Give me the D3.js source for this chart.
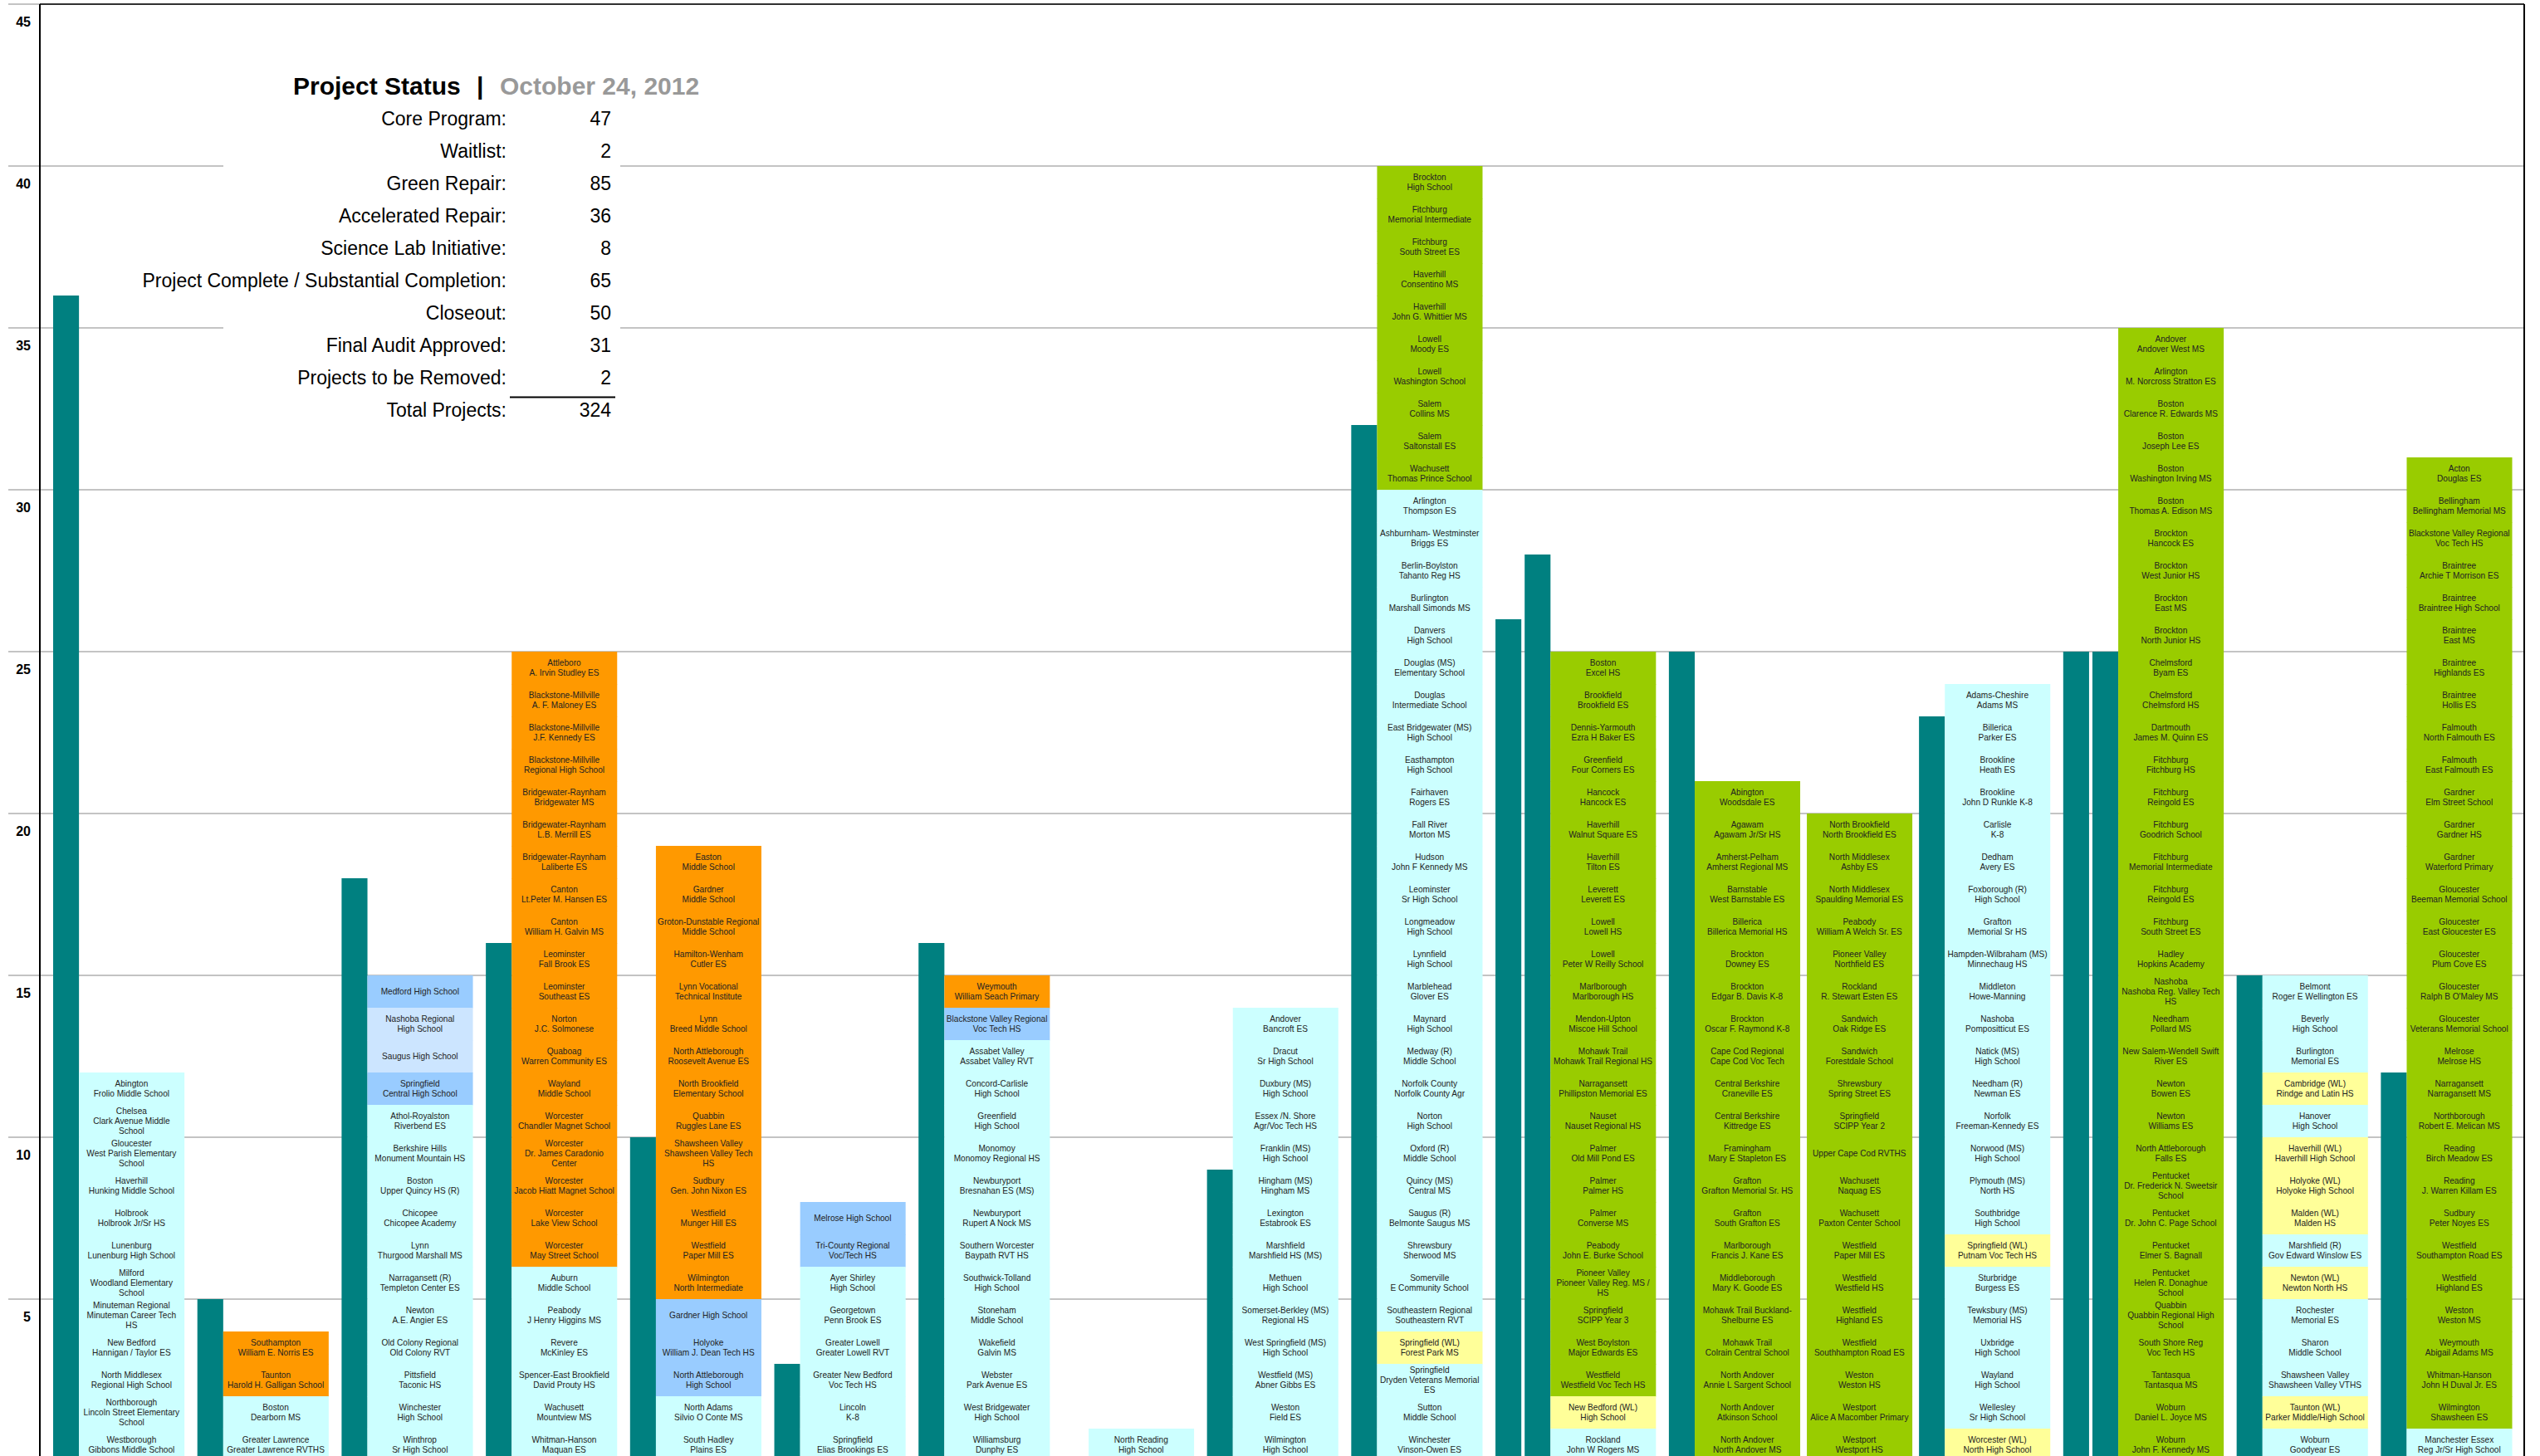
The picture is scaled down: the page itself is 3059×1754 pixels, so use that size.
<!DOCTYPE html>
<html>
<head>
<meta charset="utf-8">
<script src="https://cdn.jsdelivr.net/npm/d3@7"></script>
<style>
  body { margin: 0; background: #fff; }
  svg { display: block; font-family: "Liberation Sans", Arial, sans-serif; }
</style>
</head>
<body>
<svg id="chart"></svg>
<script>
// Project status board: teal bars = counts, coloured stacks = one cell per project

var statusLabels = ["Core Program:", "Waitlist:", "Green Repair:", "Accelerated Repair:",
  "Science Lab Initiative:", "Project Complete / Substantial Completion:", "Closeout:",
  "Final Audit Approved:", "Projects to be Removed:", "Total Projects:"];
var statusValues = [47, 2, 85, 36, 8, 65, 50, 31, 2, 324];

var yTicks = [5, 10, 15, 20, 25, 30, 35, 40, 45];

var groupIds = ["g01", "g02", "g03", "g04", "g05", "g06", "g07", "g08", "g09",
  "g10", "g11", "g12", "g13", "g14", "g15", "g16", "g17"];

// teal bar values per group (some groups have two bars, one has none)
var tealValues = [[36], [5], [18], [16], [10], [3], [16], [0], [9], [32], [26, 28],
  [25], [], [23], [25, 25], [15], [12]];

// stack cells, top to bottom; prefix = status colour code
var stackG01 = ["c|Abington\nFrolio Middle School", "c|Chelsea\nClark Avenue Middle\nSchool",
  "c|Gloucester\nWest Parish Elementary\nSchool", "c|Haverhill\nHunking Middle School",
  "c|Holbrook\nHolbrook Jr/Sr HS", "c|Lunenburg\nLunenburg High School",
  "c|Milford\nWoodland Elementary\nSchool", "c|Minuteman Regional\nMinuteman Career Tech\nHS",
  "c|New Bedford\nHannigan / Taylor ES", "c|North Middlesex\nRegional High School",
  "c|Northborough\nLincoln Street Elementary\nSchool", "c|Westborough\nGibbons Middle School"];
var stackG02 = ["o|Southampton\nWilliam E. Norris ES", "o|Taunton\nHarold H. Galligan School",
  "c|Boston\nDearborn MS", "c|Greater Lawrence\nGreater Lawrence RVTHS"];
var stackG03 = ["b|Medford High School", "l|Nashoba Regional\nHigh School", "l|Saugus High School",
  "b|Springfield\nCentral High School", "c|Athol-Royalston\nRiverbend ES",
  "c|Berkshire Hills\nMonument Mountain HS", "c|Boston\nUpper Quincy HS (R)",
  "c|Chicopee\nChicopee Academy", "c|Lynn\nThurgood Marshall MS",
  "c|Narragansett (R)\nTempleton Center ES", "c|Newton\nA.E. Angier ES",
  "c|Old Colony Regional\nOld Colony RVT", "c|Pittsfield\nTaconic HS",
  "c|Winchester\nHigh School", "c|Winthrop\nSr High School"];
var stackG04 = ["o|Attleboro\nA. Irvin Studley ES", "o|Blackstone-Millville\nA. F. Maloney  ES",
  "o|Blackstone-Millville\nJ.F. Kennedy ES", "o|Blackstone-Millville\nRegional High School",
  "o|Bridgewater-Raynham\nBridgewater MS", "o|Bridgewater-Raynham\nL.B. Merrill ES",
  "o|Bridgewater-Raynham\nLaliberte ES", "o|Canton\nLt.Peter M. Hansen ES",
  "o|Canton\nWilliam H. Galvin MS", "o|Leominster\nFall Brook ES", "o|Leominster\nSoutheast ES",
  "o|Norton\nJ.C. Solmonese", "o|Quaboag\nWarren Community ES", "o|Wayland\nMiddle School",
  "o|Worcester\nChandler Magnet School", "o|Worcester\nDr. James Caradonio\nCenter",
  "o|Worcester\nJacob Hiatt Magnet School", "o|Worcester\nLake View School",
  "o|Worcester\nMay Street School", "c|Auburn\nMiddle School", "c|Peabody\nJ Henry Higgins MS",
  "c|Revere\nMcKinley ES", "c|Spencer-East Brookfield\nDavid Prouty HS",
  "c|Wachusett\nMountview MS", "c|Whitman-Hanson\nMaquan ES"];
var stackG05 = ["o|Easton\nMiddle School", "o|Gardner\nMiddle School",
  "o|Groton-Dunstable Regional\nMiddle School", "o|Hamilton-Wenham\nCutler ES",
  "o|Lynn Vocational\nTechnical Institute", "o|Lynn\nBreed Middle School",
  "o|North Attleborough\nRoosevelt Avenue ES", "o|North Brookfield\nElementary School",
  "o|Quabbin\nRuggles Lane ES", "o|Shawsheen Valley\nShawsheen Valley Tech\nHS",
  "o|Sudbury\nGen. John Nixon ES", "o|Westfield\nMunger Hill ES", "o|Westfield\nPaper Mill ES",
  "o|Wilmington\nNorth Intermediate", "b|Gardner High School",
  "b|Holyoke\nWilliam J. Dean Tech HS", "b|North Attleborough\nHigh School",
  "c|North Adams\nSilvio O Conte MS", "c|South Hadley\nPlains ES"];
var stackG06 = ["b|Melrose High School", "b|Tri-County Regional\nVoc/Tech HS",
  "c|Ayer Shirley\nHigh School", "c|Georgetown\nPenn Brook ES",
  "c|Greater Lowell\nGreater Lowell RVT", "c|Greater New Bedford\nVoc Tech HS",
  "c|Lincoln\nK-8", "c|Springfield\nElias Brookings ES"];
var stackG07 = ["o|Weymouth\nWilliam Seach Primary", "b|Blackstone Valley Regional\nVoc Tech HS",
  "c|Assabet Valley\nAssabet Valley RVT", "c|Concord-Carlisle\nHigh School",
  "c|Greenfield\nHigh School", "c|Monomoy\nMonomoy Regional HS",
  "c|Newburyport\nBresnahan ES (MS)", "c|Newburyport\nRupert A Nock MS",
  "c|Southern Worcester\nBaypath RVT HS", "c|Southwick-Tolland\nHigh School",
  "c|Stoneham\nMiddle School", "c|Wakefield\nGalvin MS", "c|Webster\nPark Avenue ES",
  "c|West Bridgewater\nHigh School", "c|Williamsburg\nDunphy ES"];
var stackG08 = ["c|North Reading\nHigh School"];
var stackG09 = ["c|Andover\nBancroft ES", "c|Dracut\nSr High School", "c|Duxbury (MS)\nHigh School",
  "c|Essex /N. Shore\nAgr/Voc Tech HS", "c|Franklin (MS)\nHigh School",
  "c|Hingham (MS)\nHingham MS", "c|Lexington\nEstabrook ES", "c|Marshfield\nMarshfield HS (MS)",
  "c|Methuen\nHigh School", "c|Somerset-Berkley (MS)\nRegional HS",
  "c|West Springfield (MS)\nHigh School", "c|Westfield (MS)\nAbner Gibbs ES",
  "c|Weston\nField ES", "c|Wilmington\nHigh School"];
var stackG10 = ["g|Brockton\nHigh School", "g|Fitchburg\nMemorial Intermediate",
  "g|Fitchburg\nSouth Street ES", "g|Haverhill\nConsentino MS", "g|Haverhill\nJohn G. Whittier MS",
  "g|Lowell\nMoody ES", "g|Lowell\nWashington School", "g|Salem\nCollins MS",
  "g|Salem\nSaltonstall ES", "g|Wachusett\nThomas Prince School", "c|Arlington\nThompson ES",
  "c|Ashburnham- Westminster\nBriggs ES", "c|Berlin-Boylston\nTahanto Reg HS",
  "c|Burlington\nMarshall Simonds MS", "c|Danvers\nHigh School",
  "c|Douglas  (MS)\nElementary  School", "c|Douglas\nIntermediate School",
  "c|East Bridgewater (MS)\nHigh School", "c|Easthampton\nHigh School", "c|Fairhaven\nRogers ES",
  "c|Fall River\nMorton MS", "c|Hudson\nJohn F Kennedy MS", "c|Leominster\nSr High School",
  "c|Longmeadow\nHigh School", "c|Lynnfield\nHigh School", "c|Marblehead\nGlover ES",
  "c|Maynard\nHigh School", "c|Medway (R)\nMiddle School", "c|Norfolk County\nNorfolk County Agr",
  "c|Norton\nHigh School", "c|Oxford (R)\nMiddle School", "c|Quincy (MS)\nCentral MS",
  "c|Saugus (R)\nBelmonte Saugus MS", "c|Shrewsbury\nSherwood MS",
  "c|Somerville\nE Community School", "c|Southeastern Regional\nSoutheastern RVT",
  "y|Springfield (WL)\nForest Park MS", "c|Springfield\nDryden Veterans Memorial\nES",
  "c|Sutton\nMiddle School", "c|Winchester\nVinson-Owen ES"];
var stackG11 = ["g|Boston\nExcel HS", "g|Brookfield\nBrookfield ES", "g|Dennis-Yarmouth\nEzra H Baker ES",
  "g|Greenfield\nFour Corners ES", "g|Hancock\nHancock ES", "g|Haverhill\nWalnut Square ES",
  "g|Haverhill\nTilton ES", "g|Leverett\nLeverett ES", "g|Lowell\nLowell HS",
  "g|Lowell\nPeter W Reilly School", "g|Marlborough\nMarlborough HS",
  "g|Mendon-Upton\nMiscoe Hill School", "g|Mohawk Trail\nMohawk Trail Regional HS",
  "g|Narragansett\nPhillipston Memorial ES", "g|Nauset\nNauset Regional HS",
  "g|Palmer\nOld Mill Pond ES", "g|Palmer\nPalmer HS", "g|Palmer\nConverse MS",
  "g|Peabody\nJohn E. Burke School", "g|Pioneer Valley\nPioneer Valley Reg. MS /\nHS",
  "g|Springfield\nSCIPP Year 3", "g|West Boylston\nMajor Edwards ES",
  "g|Westfield\nWestfield Voc Tech HS", "y|New Bedford (WL)\nHigh School",
  "c|Rockland\nJohn W Rogers MS"];
var stackG12 = ["g|Abington\nWoodsdale ES", "g|Agawam\nAgawam Jr/Sr HS",
  "g|Amherst-Pelham\nAmherst Regional MS", "g|Barnstable\nWest Barnstable ES",
  "g|Billerica\nBillerica Memorial HS", "g|Brockton\nDowney ES", "g|Brockton\nEdgar B. Davis K-8",
  "g|Brockton\nOscar F. Raymond K-8", "g|Cape Cod Regional\nCape Cod Voc Tech",
  "g|Central Berkshire\nCraneville ES", "g|Central Berkshire\nKittredge ES",
  "g|Framingham\nMary E Stapleton ES", "g|Grafton\nGrafton Memorial Sr. HS",
  "g|Grafton\nSouth Grafton ES", "g|Marlborough\nFrancis J. Kane ES",
  "g|Middleborough\nMary K. Goode ES", "g|Mohawk Trail  Buckland-\nShelburne ES",
  "g|Mohawk Trail\nColrain Central School", "g|North Andover\nAnnie L Sargent School",
  "g|North Andover\nAtkinson School", "g|North Andover\nNorth Andover MS"];
var stackG13 = ["g|North Brookfield\nNorth Brookfield ES", "g|North Middlesex\nAshby ES",
  "g|North Middlesex\nSpaulding Memorial ES", "g|Peabody\nWilliam A Welch Sr. ES",
  "g|Pioneer Valley\nNorthfield ES", "g|Rockland\nR. Stewart Esten ES", "g|Sandwich\nOak Ridge ES",
  "g|Sandwich\nForestdale School", "g|Shrewsbury\nSpring Street ES", "g|Springfield\nSCIPP Year 2",
  "g|Upper Cape Cod RVTHS", "g|Wachusett\nNaquag ES", "g|Wachusett\nPaxton Center School",
  "g|Westfield\nPaper Mill ES", "g|Westfield\nWestfield HS", "g|Westfield\nHighland ES",
  "g|Westfield\nSouthhampton Road ES", "g|Weston\nWeston HS",
  "g|Westport\nAlice A Macomber Primary", "g|Westport\nWestport HS"];
var stackG14 = ["c|Adams-Cheshire\nAdams MS", "c|Billerica\nParker ES", "c|Brookline\nHeath ES",
  "c|Brookline\nJohn D Runkle K-8", "c|Carlisle\nK-8", "c|Dedham\nAvery ES",
  "c|Foxborough (R)\nHigh School", "c|Grafton\nMemorial Sr HS",
  "c|Hampden-Wilbraham (MS)\nMinnechaug HS", "c|Middleton\nHowe-Manning",
  "c|Nashoba\nPompositticut ES", "c|Natick (MS)\nHigh School", "c|Needham (R)\nNewman ES",
  "c|Norfolk\nFreeman-Kennedy ES", "c|Norwood (MS)\nHigh School", "c|Plymouth (MS)\nNorth HS",
  "c|Southbridge\nHigh School", "y|Springfield (WL)\nPutnam Voc Tech HS",
  "c|Sturbridge\nBurgess ES", "c|Tewksbury (MS)\nMemorial HS", "c|Uxbridge\nHigh School",
  "c|Wayland\nHigh School", "c|Wellesley\nSr High School", "y|Worcester (WL)\nNorth High School"];
var stackG15 = ["g|Andover\nAndover West MS", "g|Arlington\nM. Norcross Stratton ES",
  "g|Boston\nClarence R. Edwards MS", "g|Boston\nJoseph Lee ES", "g|Boston\nWashington Irving MS",
  "g|Boston\nThomas A. Edison MS", "g|Brockton\nHancock ES", "g|Brockton\nWest Junior HS",
  "g|Brockton\nEast MS", "g|Brockton\nNorth Junior HS", "g|Chelmsford\nByam ES",
  "g|Chelmsford\nChelmsford HS", "g|Dartmouth\nJames M. Quinn ES", "g|Fitchburg\nFitchburg HS",
  "g|Fitchburg\nReingold ES", "g|Fitchburg\nGoodrich School", "g|Fitchburg\nMemorial Intermediate",
  "g|Fitchburg\nReingold ES", "g|Fitchburg\nSouth Street ES", "g|Hadley\nHopkins Academy",
  "g|Nashoba\nNashoba Reg. Valley Tech\nHS", "g|Needham\nPollard MS",
  "g|New Salem-Wendell Swift\nRiver ES", "g|Newton\nBowen ES", "g|Newton\nWilliams ES",
  "g|North Attleborough\nFalls ES", "g|Pentucket\nDr. Frederick N. Sweetsir\nSchool",
  "g|Pentucket\nDr. John C. Page School", "g|Pentucket\nElmer S. Bagnall",
  "g|Pentucket\nHelen R. Donaghue\nSchool", "g|Quabbin\nQuabbin Regional High\nSchool",
  "g|South Shore Reg\nVoc Tech HS", "g|Tantasqua\nTantasqua MS", "g|Woburn\nDaniel L. Joyce MS",
  "g|Woburn\nJohn F. Kennedy MS"];
var stackG16 = ["c|Belmont\nRoger E Wellington ES", "c|Beverly\nHigh School", "c|Burlington\nMemorial ES",
  "y|Cambridge (WL)\nRindge and Latin HS", "c|Hanover\nHigh School",
  "y|Haverhill (WL)\nHaverhill High School", "y|Holyoke (WL)\nHolyoke High School",
  "y|Malden (WL)\nMalden HS", "c|Marshfield (R)\nGov Edward Winslow ES",
  "y|Newton (WL)\nNewton North HS", "c|Rochester\nMemorial ES", "c|Sharon\nMiddle School",
  "c|Shawsheen Valley\nShawsheen Valley VTHS", "y|Taunton (WL)\nParker Middle/High School",
  "c|Woburn\nGoodyear ES"];
var stackG17 = ["g|Acton\nDouglas ES", "g|Bellingham\nBellingham Memorial MS",
  "g|Blackstone Valley Regional\nVoc Tech HS", "g|Braintree\nArchie T Morrison ES",
  "g|Braintree\nBraintree High School", "g|Braintree\nEast MS", "g|Braintree\nHighlands ES",
  "g|Braintree\nHollis ES", "g|Falmouth\nNorth Falmouth ES", "g|Falmouth\nEast Falmouth ES",
  "g|Gardner\nElm Street School", "g|Gardner\nGardner HS", "g|Gardner\nWaterford Primary",
  "g|Gloucester\nBeeman Memorial School", "g|Gloucester\nEast Gloucester ES",
  "g|Gloucester\nPlum Cove ES", "g|Gloucester\nRalph B O'Maley MS",
  "g|Gloucester\nVeterans Memorial School", "g|Melrose\nMelrose HS",
  "g|Narragansett\nNarragansett MS", "g|Northborough\nRobert E. Melican MS",
  "g|Reading\nBirch Meadow ES", "g|Reading\nJ. Warren Killam ES", "g|Sudbury\nPeter Noyes ES",
  "g|Westfield\nSouthampton Road ES", "g|Westfield\nHighland ES", "g|Weston\nWeston MS",
  "g|Weymouth\nAbigail Adams MS", "g|Whitman-Hanson\nJohn H Duval Jr. ES",
  "g|Wilmington\nShawsheen ES", "c|Manchester Essex\nReg Jr/Sr High School"];

var stacks = [stackG01, stackG02, stackG03, stackG04, stackG05, stackG06, stackG07, stackG08,
  stackG09, stackG10, stackG11, stackG12, stackG13, stackG14, stackG15, stackG16, stackG17];

// colours
var cellColors = { c: "#CCFFFF", o: "#FF9900", g: "#99CC00", b: "#99CCFF", l: "#CCE5FF", y: "#FFFF99" };
var tealColor = "#008080";

var svgWidth = 3059;
var svgHeight = 1754;

var svg = d3.select("#chart")
  .attr("width", svgWidth)
  .attr("height", svgHeight);

var plotLeft = 48, plotRight = 3040;

var y = d3.scaleLinear().domain([0, 45]).range([1760, 5]);

// horizontal layout in units: teal bar(s), then its stack, then a gap
// (the gap is narrower next to a group that has no teal bar)
var tealW = 31, tealGap = 4, stackW = 126, groupGap = 16, narrowGap = 8.5;
var layout = [];
var pos = 0;
groupIds.forEach(function(id, i) {
  var item = { id: id, teals: [], stackX: 0, cells: stacks[i] };
  tealValues[i].forEach(function(v, j) {
    if (j > 0) pos += tealGap;
    item.teals.push({ x: pos, v: v });
    pos += tealW;
  });
  item.stackX = pos;
  pos += stackW;
  if (i < groupIds.length - 1) {
    var tight = tealValues[i].length === 0 || tealValues[i + 1].length === 0;
    pos += tight ? narrowGap : groupGap;
  }
  layout.push(item);
});

var x = d3.scaleLinear().domain([0, pos]).range([64, 3025]);
var unit = function(w) { return x(w) - x(0); };

// gridlines
svg.append("g").selectAll("line")
  .data(yTicks)
  .enter()
  .append("line")
  .attr("x1", 10)
  .attr("x2", plotRight)
  .attr("y1", d => y(d))
  .attr("y2", d => y(d))
  .attr("stroke", "#888")
  .attr("stroke-width", 1);

// status box background
svg.append("rect")
  .attr("x", 269).attr("y", 60)
  .attr("width", 478).attr("height", 470)
  .attr("fill", "#fff");

// teal bars
var tealData = [];
layout.forEach(function(g) { g.teals.forEach(function(t) { tealData.push(t); }); });

svg.append("g").selectAll("rect")
  .data(tealData)
  .enter()
  .append("rect")
  .attr("x", d => x(d.x))
  .attr("width", unit(tealW))
  .attr("y", d => y(d.v))
  .attr("height", d => y(0) - y(d.v))
  .attr("fill", tealColor);

// stacks of project cells
var cellData = [];
layout.forEach(function(g) {
  var n = g.cells.length;
  g.cells.forEach(function(s, k) {
    var parts = s.split("|");
    cellData.push({ x: g.stackX, top: n - k, code: parts[0], lines: parts[1].split("\n") });
  });
});

var cells = svg.append("g").selectAll("g")
  .data(cellData)
  .enter()
  .append("g");

cells.append("rect")
  .attr("x", d => x(d.x))
  .attr("width", unit(stackW) + 0.5)
  .attr("y", d => y(d.top))
  .attr("height", d => y(d.top - 1) - y(d.top) + 0.5)
  .attr("fill", d => cellColors[d.code]);

var lineH = 12.3;
cells.each(function(d) {
  var cx = x(d.x) + unit(stackW) / 2;
  var cy = (y(d.top) + y(d.top - 1)) / 2;
  var t = d3.select(this).append("text")
    .attr("text-anchor", "middle")
    .attr("font-size", "10.1px")
    .attr("fill", "#222");
  d.lines.forEach(function(line, j) {
    t.append("tspan")
      .attr("x", cx)
      .attr("y", cy + (j - (d.lines.length - 1) / 2) * lineH + 3.6)
      .text(line);
  });
});

// y axis labels (sit below their gridline)
var leftAxis = d3.axisLeft(y).tickValues(yTicks).tickSize(0).tickPadding(11);
var axisG = svg.append("g")
  .attr("transform", `translate(${plotLeft}, 0)`)
  .call(leftAxis);
axisG.select(".domain").remove();
axisG.selectAll("text")
  .attr("dy", 26.5)
  .attr("font-size", "16px")
  .attr("font-weight", "bold")
  .attr("font-family", "'Liberation Sans', Arial, sans-serif")
  .attr("fill", "#000");

// frame
svg.append("line").attr("x1", plotLeft).attr("x2", plotLeft).attr("y1", y(45)).attr("y2", svgHeight)
  .attr("stroke", "#000").attr("stroke-width", 2);
svg.append("line").attr("x1", plotLeft).attr("x2", plotRight).attr("y1", y(45)).attr("y2", y(45))
  .attr("stroke", "#000").attr("stroke-width", 1.5);
svg.append("line").attr("x1", plotRight).attr("x2", plotRight).attr("y1", y(45)).attr("y2", svgHeight)
  .attr("stroke", "#000").attr("stroke-width", 2);

// status box text
var box = svg.append("g");
var title = box.append("text")
  .attr("y", 114)
  .attr("font-size", "30px")
  .attr("font-weight", "bold");
title.append("tspan").attr("x", 353).attr("fill", "#000").text("Project Status");
title.append("tspan").attr("x", 574).attr("fill", "#000").text("|");
title.append("tspan").attr("x", 602).attr("fill", "#999").text("October 24, 2012");

var rowH = y(0) - y(1);
box.selectAll(".lbl")
  .data(statusLabels)
  .enter()
  .append("text")
  .attr("class", "lbl")
  .attr("x", 610)
  .attr("y", (d, i) => 151 + i * rowH)
  .attr("text-anchor", "end")
  .attr("font-size", "23px")
  .attr("fill", "#000")
  .text(d => d);

box.selectAll(".val")
  .data(statusValues)
  .enter()
  .append("text")
  .attr("class", "val")
  .attr("x", 736)
  .attr("y", (d, i) => 151 + i * rowH)
  .attr("text-anchor", "end")
  .attr("font-size", "23px")
  .attr("fill", "#000")
  .text(d => d);

// rule above the total
box.append("line")
  .attr("x1", 614).attr("x2", 741)
  .attr("y1", 151 + 8.4 * rowH).attr("y2", 151 + 8.4 * rowH)
  .attr("stroke", "#000").attr("stroke-width", 2);
</script>
</body>
</html>
